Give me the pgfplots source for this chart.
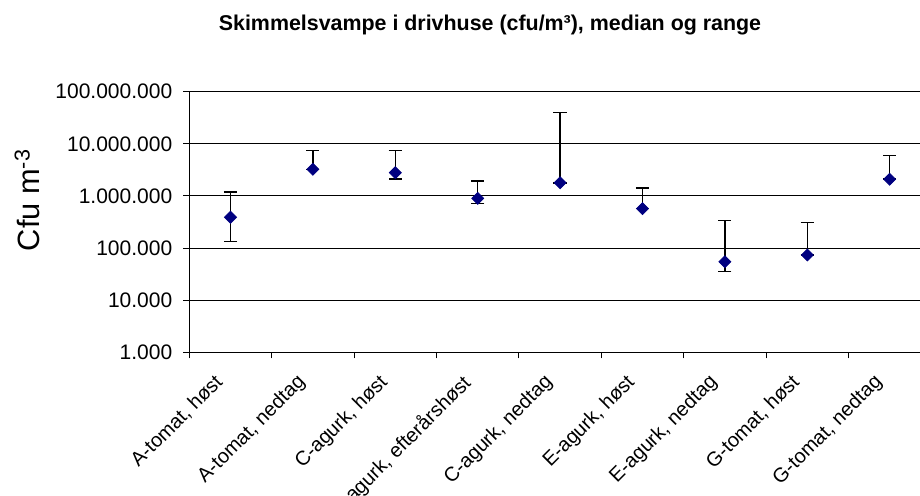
\documentclass[border=0pt]{standalone}
\usepackage{fontspec}
\setmainfont{Liberation Sans}
\usepackage{pgfplots}
\usepackage{pgfplotstable}
\pgfplotsset{compat=1.18}
\definecolor{navy}{HTML}{000080}
\pgfplotstableread{
x y ep em
0 390000 810000 255000
1 3240000 4260000 0
2 2790000 4710000 700000
3 900000 1040000 190000
4 1790000 37810000 0
5 570000 850000 0
6 54700 280300 19500
7 73600 238400 0
8 2090000 3910000 0
}\datatab
\begin{document}
\begin{tikzpicture}
\useasboundingbox (0,0) rectangle (460pt,248pt);
\clip (0,0) rectangle (460pt,248pt);
\node[anchor=base, font=\fontsize{10.7}{12}\selectfont\bfseries] at (245pt,232.6pt) {Skimmelsvampe i drivhuse (cfu/m³), median og range};
\node[rotate=90, anchor=base west, inner sep=0pt, font=\fontsize{15.4}{18}\selectfont] at (20pt,122.2pt) {Cfu m\textsuperscript{-3}};
\begin{axis}[
  at={(94.65pt,71.85pt)}, anchor=south west,
  scale only axis, width=370.8pt, height=130.3pt,
  ymode=log, ymin=1000, ymax=1e8,
  xmin=-0.5, xmax=8.5,
  axis x line*=bottom, axis y line*=left,
  axis line style={black, line width=0.5pt},
  ytick={1000,10000,100000,1000000,10000000,100000000},
  yticklabels={1.000,10.000,100.000,1.000.000,10.000.000,100.000.000},
  yminorticks=false,
  ymajorgrids, grid style={black, line width=0.5pt},
  tick style={black, line width=0.5pt},
  major tick length=3pt, tick align=outside,
  xtick={-0.5,0.5,...,8.5},
  xticklabels={,,,,,,,,,},
  extra x ticks={-0.21,0.79,1.79,2.79,3.79,4.79,5.79,6.79,7.79},
  extra x tick labels={{A-tomat, høst},{A-tomat, nedtag},{C-agurk, høst},{C-agurk, efterårshøst},{C-agurk, nedtag},{E-agurk, høst},{E-agurk, nedtag},{G-tomat, høst},{G-tomat, nedtag}},
  extra x tick style={major tick length=0pt, xmajorgrids=false, xticklabel shift=10pt,
    xticklabel style={rotate=45, anchor=north east, inner sep=0pt, font=\fontsize{10}{12}\selectfont}},
  yticklabel style={font=\fontsize{10.5}{12}\selectfont, xshift=-2pt},
  clip=false,
]
\addplot[only marks, mark=square*, mark size=2.1pt, mark options={rotate=45, fill=navy, draw=navy},
  error bars/.cd, y dir=both, y explicit,
  error bar style={black, line width=0.75pt},
  error mark options={rotate=90, black, mark size=3.3pt, line width=0.75pt}]
  table[x=x, y=y, y error plus=ep, y error minus=em] {\datatab};
\end{axis}
\end{tikzpicture}
\end{document}
